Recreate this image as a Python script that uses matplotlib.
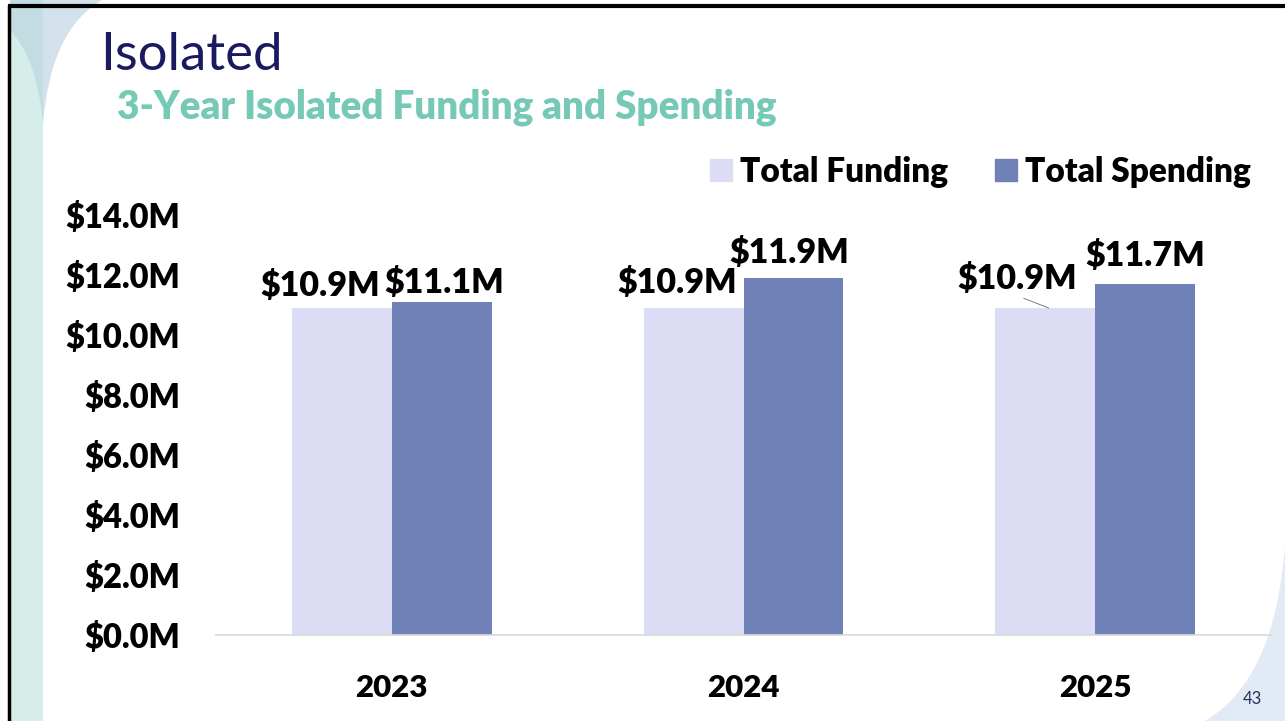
import matplotlib
matplotlib.use("Agg")
import matplotlib.pyplot as plt
import numpy as np
from matplotlib.patches import Rectangle, PathPatch
from matplotlib.path import Path

# ---- data ----
years = ["2023", "2024", "2025"]
funding = [10.9, 10.9, 10.9]
spending = [11.1, 11.9, 11.7]
series_names = ["Total Funding", "Total Spending"]
y_ticks = [0, 2, 4, 6, 8, 10, 12, 14]

title = "Isolated"
subtitle = "3-Year Isolated Funding and Spending"
page_no = "43"

# ---- styles ----
c_fund = "#dcdcf5"
c_spend = "#6f81b7"
FONT = ["Lato", "DejaVu Sans"]
plt.rcParams["font.family"] = FONT
BW = "heavy"

W, H = 1285, 721
fig = plt.figure(figsize=(W / 100, H / 100), dpi=100)
fig.patch.set_facecolor("white")

def fx(px):
    return px / W

def fy(py):
    return 1 - py / H

# background decorations (pixel coords on a full-figure axes)
bg = fig.add_axes([0, 0, 1, 1], zorder=-10)
bg.set_xlim(0, W)
bg.set_ylim(H, 0)
bg.axis("off")
bg.add_patch(Rectangle((10, 0), 33, H, color="#d6eeea", lw=0))
p_dark = Path([(10, 0), (43, 0), (43, 125), (38, 60), (10, 30), (10, 0)],
              [Path.MOVETO, Path.LINETO, Path.LINETO, Path.CURVE3, Path.CURVE3, Path.CLOSEPOLY])
bg.add_patch(PathPatch(p_dark, color="#c3dce2", lw=0))
p_light = Path([(43, 0), (102, 0), (50, 30), (43, 125), (43, 0)],
               [Path.MOVETO, Path.LINETO, Path.CURVE3, Path.CURVE3, Path.CLOSEPOLY])
bg.add_patch(PathPatch(p_light, color="#d3e1ea", lw=0))
p_br = Path([(W, 545), (1275, 680), (1205, H), (W, H), (W, 545)],
            [Path.MOVETO, Path.CURVE3, Path.CURVE3, Path.LINETO, Path.CLOSEPOLY])
bg.add_patch(PathPatch(p_br, color="#e2ebf5", lw=0))
bg.plot([9, 9], [5, H], color="black", lw=2.5, solid_capstyle="butt")
bg.plot([8, W], [6, 6], color="black", lw=3, solid_capstyle="butt")

fig.text(fx(100), fy(70), title, fontsize=38, color="#1a1a60",
         fontweight="normal", va="baseline", ha="left")
fig.text(fx(117), fy(119), subtitle, fontsize=27.8, color="#76c9b7",
         fontweight=BW, va="baseline", ha="left")
fig.text(fx(1262), fy(704), page_no, fontsize=12, color="#2d2d5a",
         va="baseline", ha="right")

ax = fig.add_axes([fx(216), fy(635), fx(1271) - fx(216), (635 - 215) / H])
ax.set_facecolor("none")
x = np.arange(len(years))
bw = 100 / 352
b1 = ax.bar(x - bw / 2, funding, bw, color=c_fund, label=series_names[0], zorder=2)
b2 = ax.bar(x + bw / 2, spending, bw, color=c_spend, label=series_names[1], zorder=2)
ax.set_xlim(-0.5, 2.5)
ax.set_ylim(0, 14)
ax.set_yticks(y_ticks)
ax.set_yticklabels([f"${v:.1f}M" for v in y_ticks], fontsize=23.5, fontweight=BW)
ax.set_xticks(x)
ax.set_xticklabels(years, fontsize=22.5, fontweight=BW)
ax.tick_params(axis="y", length=0, pad=26)
ax.tick_params(axis="x", length=0, pad=28)
for s in ["top", "right", "left"]:
    ax.spines[s].set_visible(False)
ax.spines["bottom"].set_color("#d9d9d9")
ax.spines["bottom"].set_linewidth(1.2)

# data labels (offsets in points)
fund_off = [(-15.5, 16), (-12, 18), (-20, 21)]
spend_off = [(1.5, 14), (-3, 18), (0, 20)]
for i, (bar, v) in enumerate(zip(b1, funding)):
    cx = bar.get_x() + bar.get_width() / 2
    ax.annotate(f"${v:.1f}M", (cx, v), xytext=fund_off[i], textcoords="offset points",
                ha="center", va="center", fontsize=24.5, fontweight=BW)
for i, (bar, v) in enumerate(zip(b2, spending)):
    cx = bar.get_x() + bar.get_width() / 2
    ax.annotate(f"${v:.1f}M", (cx, v), xytext=spend_off[i], textcoords="offset points",
                ha="center", va="center", fontsize=24.5, fontweight=BW)
# leader line for the displaced 2025 funding label
ax.annotate("", (x[2] - bw / 2 + 0.01, funding[2]), xytext=(-18, 7), textcoords="offset points",
            arrowprops=dict(arrowstyle="-", color="#7f7f7f", lw=0.7, shrinkA=0, shrinkB=0))

handles = [Rectangle((0, 0), 1, 1, color=c_fund), Rectangle((0, 0), 1, 1, color=c_spend)]
fig.legend(handles, series_names, loc="center right", bbox_to_anchor=(fx(1251), fy(172)),
           ncol=2, frameon=False, prop={"size": 24, "weight": BW},
           handlelength=0.65, handleheight=0.65, handletextpad=0.25, columnspacing=1.4,
           borderaxespad=0, borderpad=0)

fig.savefig("out.png", dpi=100)
